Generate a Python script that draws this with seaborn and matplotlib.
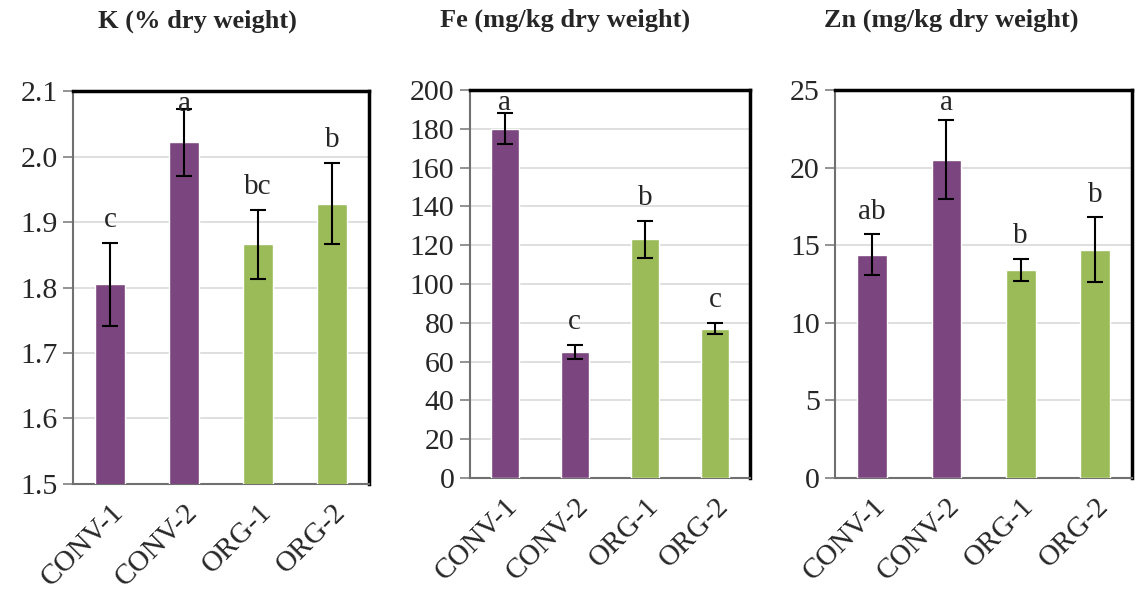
import matplotlib
matplotlib.use("Agg")
import matplotlib.pyplot as plt
import seaborn as sns

# Data
groups = ["CONV-1", "CONV-2", "ORG-1", "ORG-2"]
bar_colors = ["#7B4580", "#7B4580", "#9BBB59", "#9BBB59"]

k_mean = [1.805, 2.022, 1.866, 1.928]
k_err = [0.063, 0.051, 0.053, 0.062]
k_letters = ["c", "a", "bc", "b"]

fe_mean = [180.0, 65.0, 123.0, 77.0]
fe_err = [8.0, 3.5, 9.5, 3.0]
fe_letters = ["a", "c", "b", "c"]

zn_mean = [14.4, 20.5, 13.4, 14.7]
zn_err = [1.3, 2.55, 0.7, 2.1]
zn_letters = ["ab", "a", "b", "b"]

titles = ["K (% dry weight)", "Fe (mg/kg dry weight)", "Zn (mg/kg dry weight)"]

sns.set_theme(style="white")
plt.rcParams["font.family"] = ["Liberation Serif", "DejaVu Serif"]

fig = plt.figure(figsize=(11.4, 5.96), dpi=100)

panels = [
    dict(mean=k_mean, err=k_err, letters=k_letters, ylim=(1.5, 2.1), step=0.1, fmt="{:.1f}",
         rect=[0.064, 0.188, 0.260, 0.659], title_x=0.42),
    dict(mean=fe_mean, err=fe_err, letters=fe_letters, ylim=(0, 200), step=20, fmt="{:.0f}",
         rect=[0.412, 0.198, 0.246, 0.651], title_x=0.34),
    dict(mean=zn_mean, err=zn_err, letters=zn_letters, ylim=(0, 25), step=5, fmt="{:.0f}",
         rect=[0.7325, 0.198, 0.2605, 0.651], title_x=0.39),
]

for p, title in zip(panels, titles):
    ax = fig.add_axes(p["rect"])
    sns.barplot(x=groups, y=p["mean"], hue=groups, palette=bar_colors, legend=False,
                width=0.4, saturation=1, ax=ax, zorder=3)
    ax.errorbar(range(len(groups)), p["mean"], yerr=p["err"], fmt="none", ecolor="black",
                elinewidth=1.5, capsize=6, capthick=1.5, zorder=4)

    lo, hi = p["ylim"]
    ax.set_ylim(lo, hi)
    ax.set_xlim(-0.5, len(groups) - 0.5)
    n = int(round((hi - lo) / p["step"]))
    yt = [lo + i * p["step"] for i in range(n + 1)]
    ax.set_yticks(yt)
    ax.set_yticklabels([p["fmt"].format(v) for v in yt], fontsize=21.5)
    ax.yaxis.grid(True, color="#D9D9D9", linewidth=1.2, zorder=0)
    ax.set_axisbelow(True)

    # letters above error bars
    span = hi - lo
    for i, (m, e, lab) in enumerate(zip(p["mean"], p["err"], p["letters"])):
        top = m + e
        if top + 0.08 * span > hi:
            ax.text(i, hi, lab, ha="center", va="top", fontsize=21, zorder=5)
        else:
            ax.annotate(lab, (i, top), xytext=(0, 7), textcoords="offset points",
                        ha="center", va="bottom", fontsize=21, zorder=5)

    # x ticks: labels at bar centres, tick marks at category boundaries
    ax.set_xticks(range(len(groups)))
    ax.set_xticklabels(groups, rotation=45, ha="right", rotation_mode="anchor", fontsize=21)
    ax.tick_params(axis="x", which="major", length=0, pad=11)
    ax.set_xticks([i - 0.5 for i in range(len(groups) + 1)], minor=True)
    ax.tick_params(axis="x", which="minor", length=7, width=1.2, color="#808080", direction="out")
    ax.tick_params(axis="y", length=7, width=1.2, color="#808080", direction="out", left=True, pad=4)

    ax.set_xlabel("")
    ax.set_ylabel("")
    for side in ["top", "right"]:
        ax.spines[side].set_color("black")
        ax.spines[side].set_linewidth(2.5)
    for side in ["left", "bottom"]:
        ax.spines[side].set_color("#707070")
        ax.spines[side].set_linewidth(1.5)

    ax.set_title(title, fontsize=19, fontweight="bold", x=p["title_x"], pad=46)

fig.savefig("out.png", dpi=100)
